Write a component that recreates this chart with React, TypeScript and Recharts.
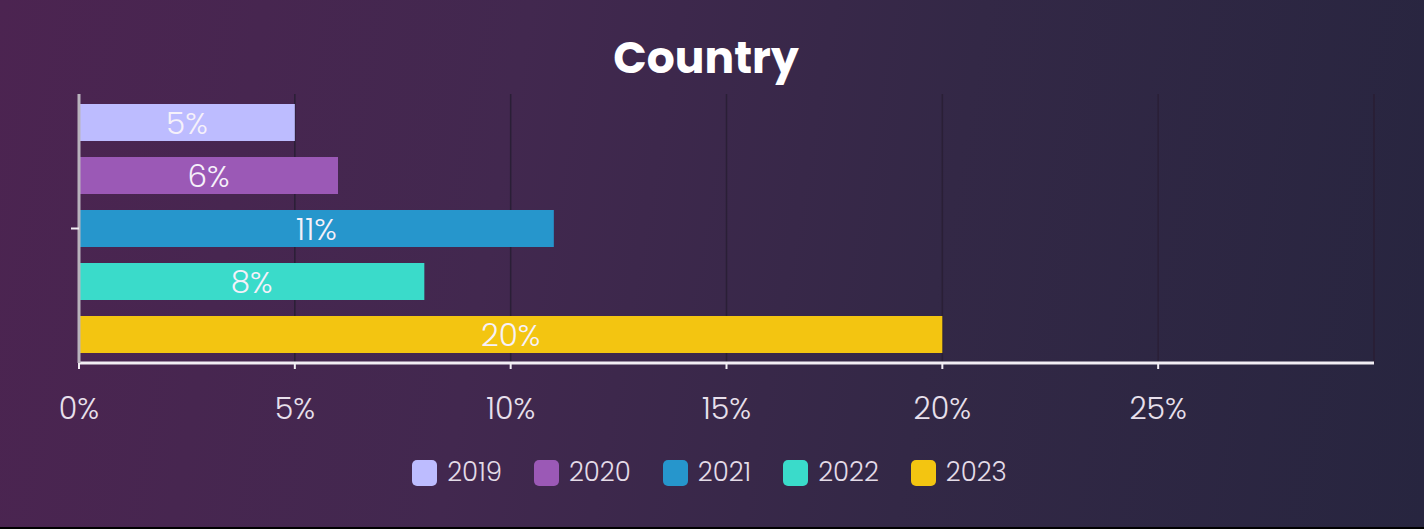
import React from "react";
import { BarChart, Bar, XAxis, YAxis, CartesianGrid, Legend, LabelList, ReferenceLine } from "recharts";

const categories = [""];
const seriesNames = ["2019", "2020", "2021", "2022", "2023"];
const seriesValues = [5, 6, 11, 8, 20];
const seriesColors = ["#bdbcff", "#9b59b6", "#2696cc", "#3adbca", "#f3c511"];
const tickValues = [0, 5, 10, 15, 20, 25];
const axisMax = 30;

const data = categories.map((name) => {
  const row: Record<string, string | number> = { name };
  seriesNames.forEach((s, i) => {
    row[s] = seriesValues[i];
  });
  return row;
});

const FONT = "Poppins, 'Open Sans', 'Noto Sans', sans-serif";

const LegendContent = () => (
  <div
    style={{
      display: "flex",
      justifyContent: "center",
      alignItems: "center",
      gap: 32,
      paddingTop: 33,
      paddingRight: 14,
      fontFamily: FONT,
    }}
  >
    {seriesNames.map((s, i) => (
      <div key={s} style={{ display: "flex", alignItems: "center", gap: 10 }}>
        <div
          style={{
            width: 25,
            height: 26,
            borderRadius: 5,
            background: seriesColors[i],
          }}
        />
        <span style={{ color: "#e4dce8", fontSize: 26, fontWeight: 300 }}>{s}</span>
      </div>
    ))}
  </div>
);

export default function App() {
  return (
    <div
      style={{
        position: "absolute",
        left: 0,
        top: 0,
        width: 1424,
        height: 527,
        background: "linear-gradient(100deg, #4c2451 0%, #42284f 35%, #332846 65%, #27253f 100%)",
        overflow: "hidden",
      }}
    >
      <style>{`body{margin:0;background:#000;}`}</style>
      <div
        style={{
          position: "absolute",
          top: 30,
          left: 0,
          width: 1412,
          textAlign: "center",
          color: "#ffffff",
          fontFamily: FONT,
          fontWeight: 700,
          fontSize: 44,
          lineHeight: "56px",
        }}
      >
        Country
      </div>
      <BarChart
        width={1424}
        height={527}
        data={data}
        layout="vertical"
        margin={{ top: 94, right: 50, left: 59, bottom: 0 }}
        barGap={16}
        barSize={37}
      >
        <CartesianGrid horizontal={false} stroke="#2a1f36" strokeWidth={1.5} />
        <ReferenceLine x={axisMax} stroke="#2a1f36" strokeWidth={1.5} />
        <XAxis
          type="number"
          domain={[0, axisMax]}
          ticks={tickValues}
          allowDataOverflow
          tickFormatter={(v: number) => `${v}%`}
          axisLine={{ stroke: "#f2eef4", strokeWidth: 3 }}
          tickLine={{ stroke: "#f2eef4", strokeWidth: 2 }}
          tickSize={6}
          tickMargin={29}
          tick={{ fill: "#e8e0ec", fontSize: 30, fontFamily: FONT, fontWeight: 300 }}
          height={57}
        />
        <YAxis
          type="category"
          dataKey="name"
          width={20}
          axisLine={{ stroke: "#b9b3bd", strokeWidth: 3 }}
          tickLine={{ stroke: "#f2eef4", strokeWidth: 2 }}
          tickSize={8}
          tick={{ fill: "#e8e0ec", fontSize: 20 }}
        />
        <Legend verticalAlign="bottom" height={107} content={<LegendContent />} />
        {seriesNames.map((s, i) => (
          <Bar key={s} dataKey={s} fill={seriesColors[i]} isAnimationActive={false}>
            <LabelList
              dataKey={s}
              position="center"
              formatter={(v: number) => `${v}%`}
              fill="#f6f1fa"
              fontSize={31}
              fontWeight={300}
              fontFamily={FONT}
            />
          </Bar>
        ))}
      </BarChart>
    </div>
  );
}
